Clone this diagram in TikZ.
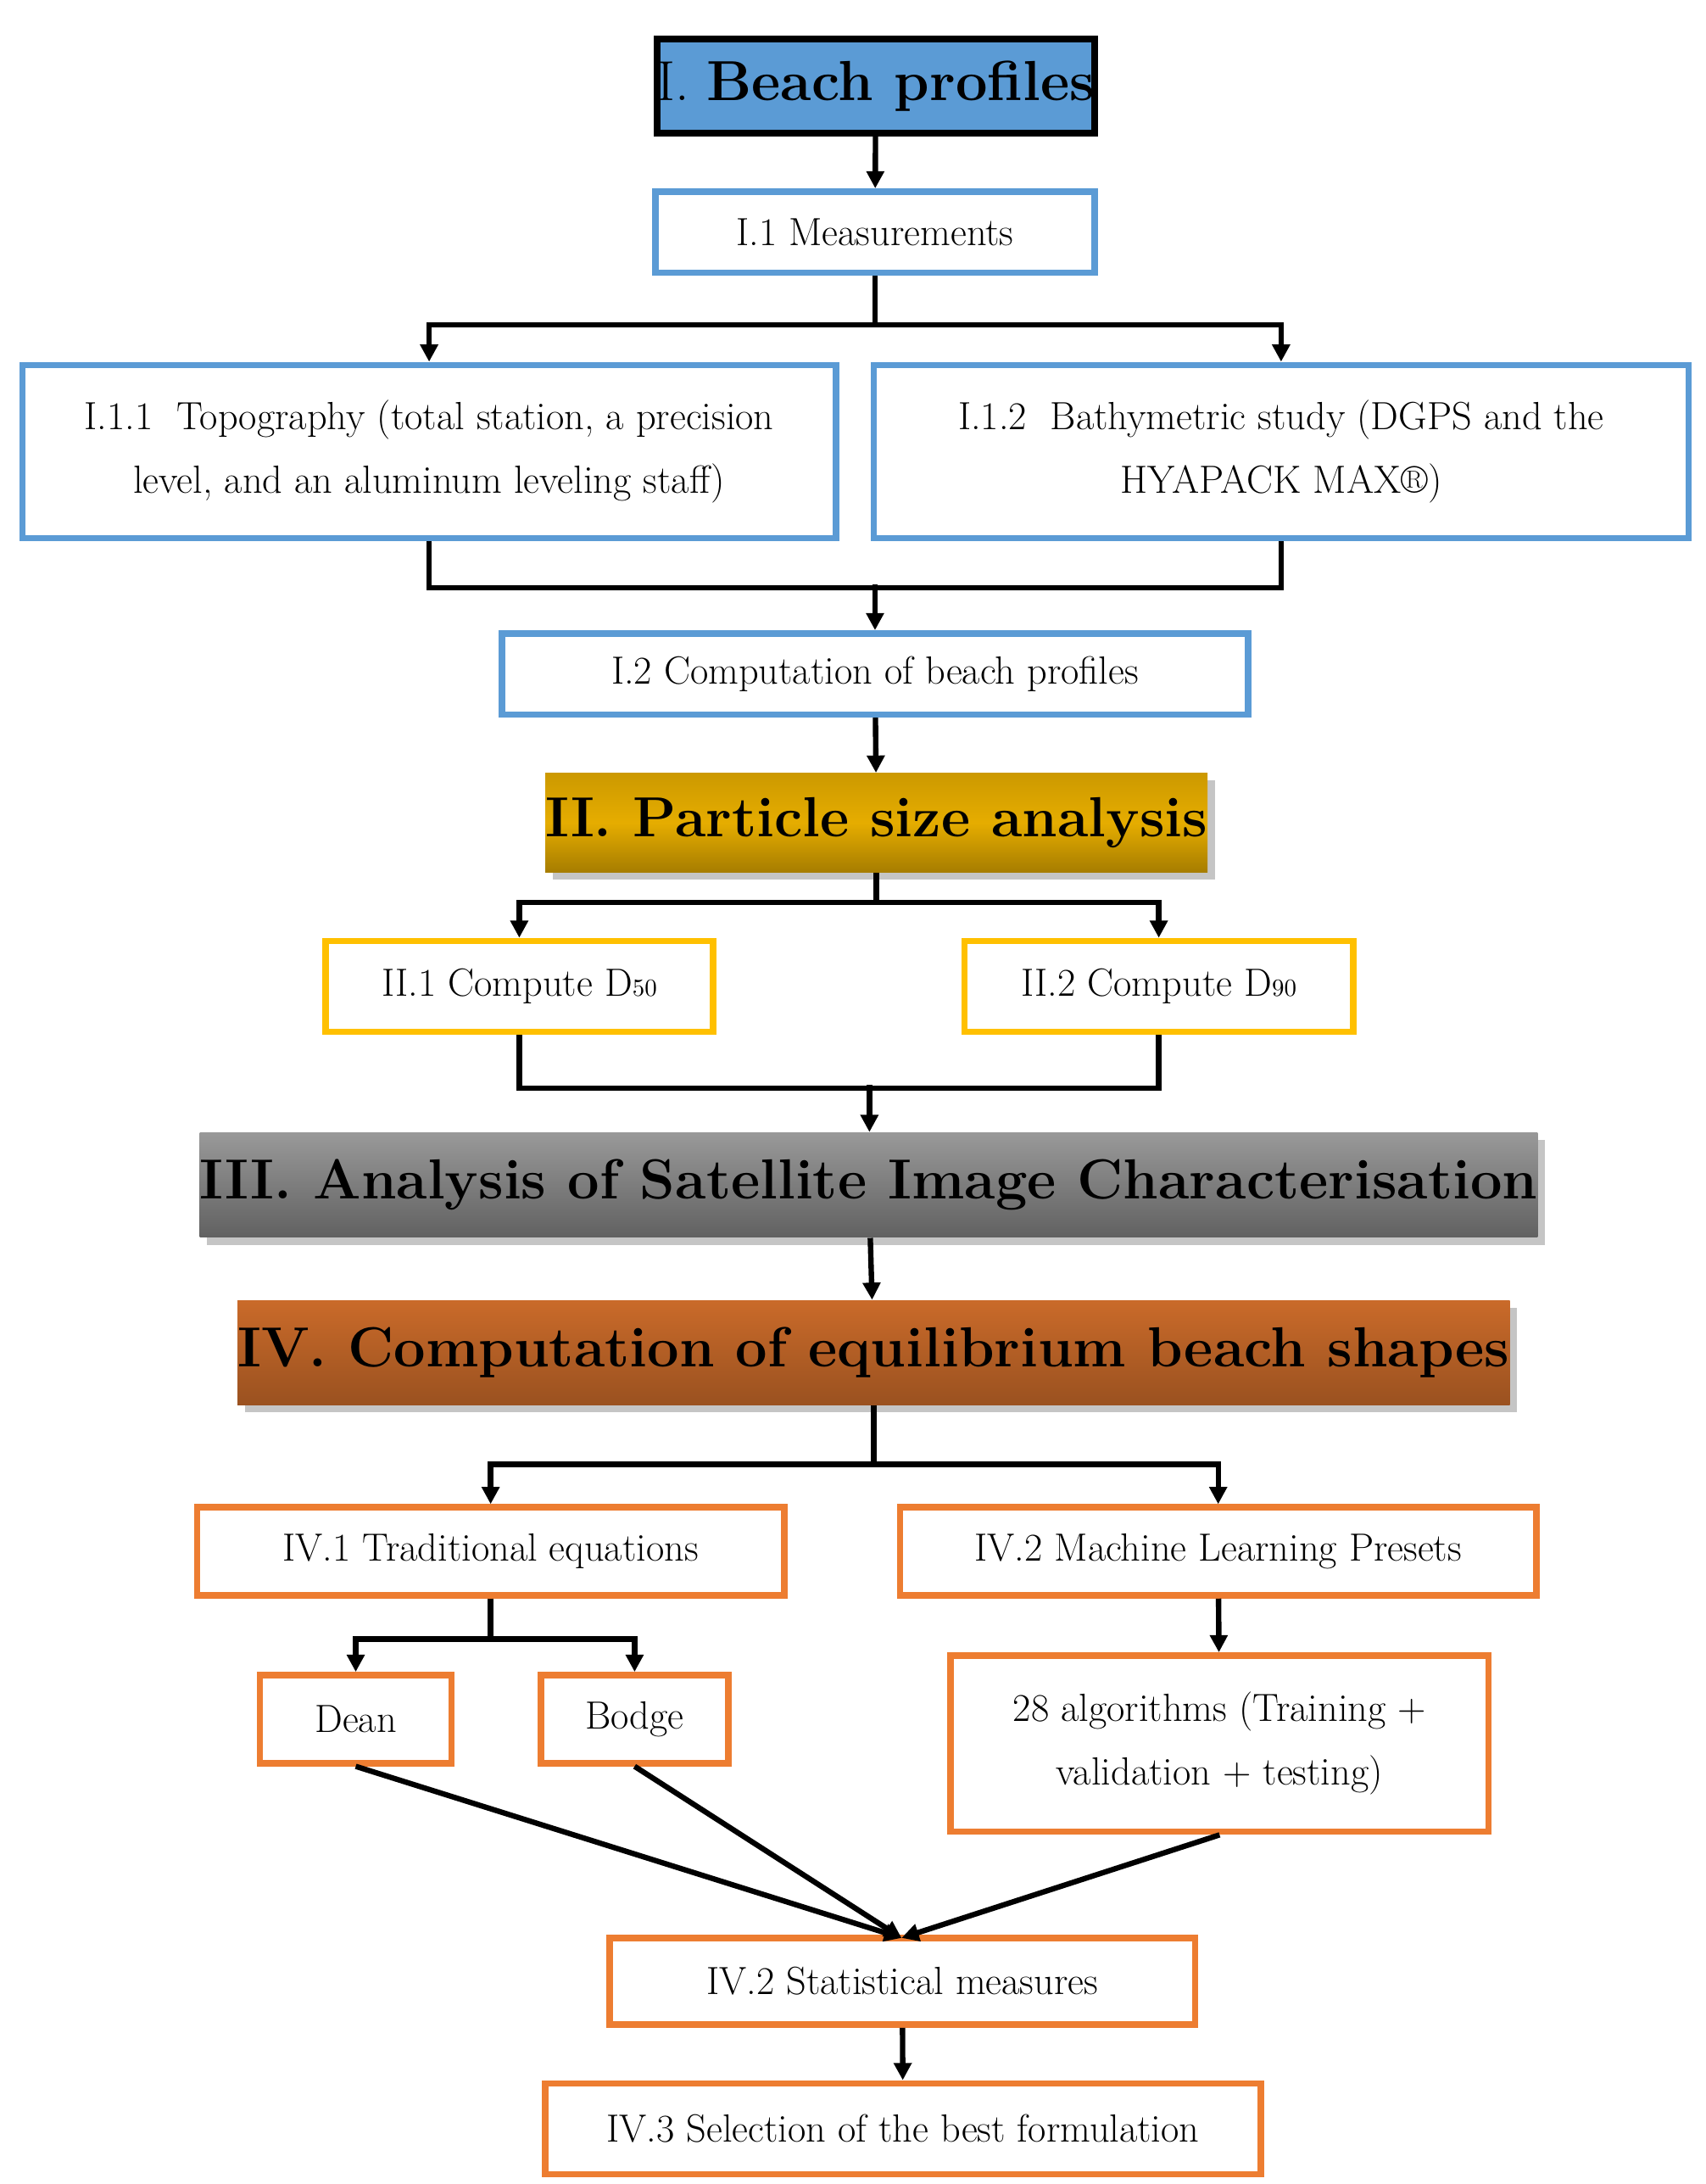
\documentclass[tikz,border=0pt]{standalone}
\usetikzlibrary{arrows.meta,shadows}
\definecolor{bl}{RGB}{91,155,213}
\definecolor{yl}{RGB}{255,192,0}
\definecolor{og}{RGB}{237,125,49}
\begin{document}
\begin{tikzpicture}[x=0.02cm,y=-0.02cm,
 bx/.style={draw,line width=2.6pt,inner sep=0pt,align=center,font=\fontsize{16}{26}\selectfont},
 bb/.style={bx,draw=bl},yb/.style={bx,draw=yl},ob/.style={bx,draw=og},
 hd/.style={inner sep=0pt,align=center,font=\fontsize{23}{28}\selectfont\bfseries,drop shadow={shadow xshift=3pt,shadow yshift=-3pt,fill=black!45}},
 ln/.style={line width=2.2pt},
 ar/.style={ln,-{Triangle[length=7pt,width=7pt]}}]
\useasboundingbox (0,0) rectangle (1220,1562);
\node[bx,line width=2.8pt,fill=bl,font=\fontsize{23}{28}\selectfont,minimum width={313*0.02cm},minimum height={67*0.02cm}] (I) at (626.5,61.5) {I. \textbf{Beach profiles}};
\node[bb,minimum width={314*0.02cm},minimum height={58*0.02cm}] (I1) at (626,166) {I.1 Measurements};
\node[bb,minimum width={582*0.02cm},minimum height={124*0.02cm}] (I11) at (307,323) {I.1.1\ \ Topography (total station, a precision\\level, and an aluminum leveling staff)};
\node[bb,minimum width={583*0.02cm},minimum height={124*0.02cm}] (I12) at (916.5,323) {I.1.2\ \ Bathymetric study (DGPS and the\\HYAPACK MAX\textregistered)};
\node[bb,minimum width={534*0.02cm},minimum height={58*0.02cm}] (I2) at (626,482) {I.2 Computation of beach profiles};
\node[hd,top color=yellow!50!orange!80!black,bottom color=yellow!50!orange!65!black,middle color=yl!90!black,minimum width={440*0.02cm},minimum height={71*0.02cm}] (II) at (627,588.5) {II. Particle size analysis};
\node[yb,minimum width={277*0.02cm},minimum height={65*0.02cm}] (II1) at (371.5,705.5) {II.1 Compute D{\fontsize{10}{10}\selectfont 50}};
\node[yb,minimum width={278*0.02cm},minimum height={65*0.02cm}] (II2) at (829,705.5) {II.2 Compute D{\fontsize{10}{10}\selectfont 90}};
\node[hd,top color=black!40,middle color=black!50,bottom color=black!62,minimum width={919*0.02cm},minimum height={75*0.02cm}] (III) at (621.5,847.5) {III. Analysis of Satellite Image Characterisation};
\node[hd,top color=og!85!black,middle color=og!80!black,bottom color=og!65!black,minimum width={840*0.02cm},minimum height={75*0.02cm}] (IV) at (625,967.5) {IV. Computation of equilibrium beach shapes};
\node[ob,minimum width={420*0.02cm},minimum height={63*0.02cm}] (IV1) at (351,1109.5) {IV.1 Traditional equations};
\node[ob,minimum width={455*0.02cm},minimum height={63*0.02cm}] (IV2) at (871.5,1109.5) {IV.2 Machine Learning Presets};
\node[ob,minimum width={137*0.02cm},minimum height={63*0.02cm}] (D) at (254.5,1229.5) {Dean};
\node[ob,minimum width={134*0.02cm},minimum height={63*0.02cm}] (B) at (454,1229.5) {Bodge};
\node[ob,minimum width={385*0.02cm},minimum height={126*0.02cm}] (A) at (872.5,1247) {28 algorithms (Training +\\validation + testing)};
\node[ob,minimum width={419*0.02cm},minimum height={62*0.02cm}] (S) at (645.5,1417) {IV.2 Statistical measures};
\node[ob,minimum width={512*0.02cm},minimum height={65*0.02cm}] (F) at (646,1522.5) {IV.3 Selection of the best formulation};
\coordinate (j1) at (626,418);
\coordinate (j2) at (622,776);
\coordinate (m) at (645,1386);
\draw[ar] (I) -- (I1);
\draw[ar] (I1.south) -- ++(0,35) -| (I11.north);
\draw[ar] (I1.south) -- ++(0,35) -| (I12.north);
\draw[ln] (I11.south) -- ++(0,33) -| (I12.south);
\draw[ar] (j1) -- (I2.north);
\draw[ar] (I2) -- (II);
\draw[ar] (II.south) -- ++(0,21) -| (II1.north);
\draw[ar] (II.south) -- ++(0,21) -| (II2.north);
\draw[ln] (II1.south) -- ++(0,38) -| (II2.south);
\draw[ar] (j2) -- (III.north -| j2);
\draw[ar] (III) -- (IV);
\draw[ar] (IV.south) -- ++(0,42) -| (IV1.north);
\draw[ar] (IV.south) -- ++(0,42) -| (IV2.north);
\draw[ar] (IV1.south) -- ++(0,29) -| (D.north);
\draw[ar] (IV1.south) -- ++(0,29) -| (B.north);
\draw[ar] (IV2) -- (A);
\draw[ar] (D.south) -- (m);
\draw[ar] (B.south) -- (m);
\draw[ar] (A.south) -- (m);
\draw[ar] (S) -- (F);
\end{tikzpicture}
\end{document}
